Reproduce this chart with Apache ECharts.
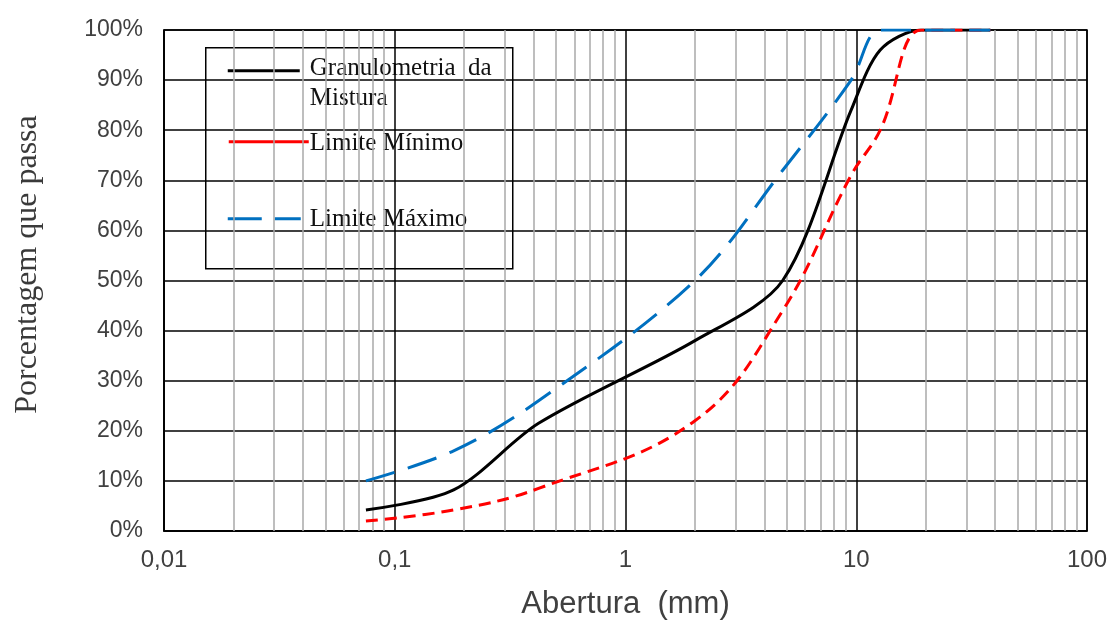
<!DOCTYPE html>
<html>
<head>
<meta charset="utf-8">
<script src="https://cdn.jsdelivr.net/npm/echarts@6/dist/echarts.min.js"></script>
<style>
html,body{margin:0;padding:0;background:#fff;}
#chart{width:1108px;height:622px;}
</style>
</head>
<body>
<div id="chart"></div>
<script>
// Sieve openings (mm)
var sieves = [0.075, 0.18, 0.42, 2.0, 4.8, 9.5, 12.7, 19.1, 25.4, 38.1];
// Percent passing
var mistura = [4.2, 8.2, 21.5, 38, 50, 84, 96, 100, 100, 100];
var limiteMinimo = [2, 4.2, 8.5, 22, 44, 71, 80, 100, 100, 100];
var limiteMaximo = [10, 16, 26, 50, 72, 90, 100, 100, 100, 100];

var xTickLabels = ['0,01', '0,1', '1', '10', '100'];
var yTickValues = [0, 10, 20, 30, 40, 50, 60, 70, 80, 90, 100];
var decades = [0.01, 0.1, 1, 10];
var minorMultipliers = [2, 3, 4, 5, 6, 7, 8, 9];

var names = ['Granulometria da Mistura', 'Limite Mínimo', 'Limite Máximo'];

function pairs(ys) {
  return sieves.map(function (x, i) { return [x, ys[i]]; });
}

var minorLines = [];
decades.forEach(function (d) {
  minorMultipliers.forEach(function (m) {
    minorLines.push({ xAxis: +(d * m).toPrecision(3) });
  });
});

var chart = echarts.init(document.getElementById('chart'), null, { renderer: 'canvas' });

var serif = '"Liberation Serif", "Times New Roman", serif';
var sans = '"Liberation Sans", Arial, sans-serif';

chart.setOption({
  animation: false,
  backgroundColor: '#ffffff',
  grid: {
    left: 164, right: 21, top: 30, bottom: 91,
    show: true, borderColor: '#000000', borderWidth: 1.5,
    containLabel: false,
    outerBoundsMode: 'none'
  },
  xAxis: {
    type: 'log',
    logBase: 10,
    min: 0.01,
    max: 100,
    name: 'Abertura  (mm)',
    nameLocation: 'middle',
    nameGap: 58,
    nameTextStyle: { fontFamily: sans, fontSize: 31, color: '#404040' },
    axisLine: { show: true, lineStyle: { color: '#000', width: 1.5 } },
    axisTick: { show: false },
    axisLabel: {
      margin: 17,
      fontFamily: sans, fontSize: 24, color: '#404040',
      formatter: function (v) {
        var k = Math.round(Math.log10(v)) + 2;
        return xTickLabels[k] !== undefined ? xTickLabels[k] : '';
      }
    },
    splitLine: { show: true, lineStyle: { color: '#000', width: 1.5 } }
  },
  yAxis: {
    type: 'value',
    min: 0,
    max: 100,
    interval: 10,
    name: 'Porcentagem que passa',
    nameLocation: 'middle',
    nameGap: 120,
    nameTextStyle: { fontFamily: serif, fontSize: 32, color: '#3a3a3a', padding: [0, 0, 0, 32] },
    axisLine: { show: true, lineStyle: { color: '#000', width: 1.5 } },
    axisTick: { show: false },
    axisLabel: {
      margin: 21,
      fontFamily: sans, fontSize: 23, color: '#404040',
      formatter: function (v) { return yTickValues.indexOf(v) >= 0 ? v + '%' : ''; }
    },
    splitLine: { show: true, lineStyle: { color: '#000', width: 1.5 } }
  },
  series: [
    {
      name: 'grid-minor',
      type: 'line',
      data: [],
      silent: true,
      z: 1,
      markLine: {
        z: 1,
        silent: true,
        symbol: ['none', 'none'],
        label: { show: false },
        lineStyle: { color: '#a8a8a8', type: 'solid', width: 1.5 },
        emphasis: { disabled: true },
        data: minorLines
      }
    },
    {
      name: names[0],
      type: 'line',
      data: pairs(mistura),
      smooth: 0.3,
      symbol: 'none',
      z: 3,
      lineStyle: { color: '#000000', width: 3 }
    },
    {
      name: names[1],
      type: 'line',
      data: pairs(limiteMinimo),
      smooth: 0.4,
      symbol: 'none',
      z: 4,
      lineStyle: { color: '#ff0000', width: 3, type: [12, 7] }
    },
    {
      name: names[2],
      type: 'line',
      data: pairs(limiteMaximo),
      smooth: 0.35,
      symbol: 'none',
      z: 5,
      lineStyle: { color: '#0070c0', width: 3, type: [30, 14] }
    }
  ],
  graphic: [
    {
      type: 'group', left: 205, top: 47, z: 100,
      children: [
        { type: 'rect', shape: { x: 0, y: 0, width: 307, height: 221 },
          style: { fill: '#ffffff', stroke: '#000000', lineWidth: 1.5 } },
        { type: 'line', shape: { x1: 22, y1: 23, x2: 94, y2: 23 },
          style: { stroke: '#000000', lineWidth: 3 } },
        { type: 'text', x: 104, y: 21,
          style: { text: 'Granulometria  da', font: '25px ' + serif, fill: '#111', verticalAlign: 'middle' } },
        { type: 'text', x: 104, y: 51,
          style: { text: 'Mistura', font: '25px ' + serif, fill: '#111', verticalAlign: 'middle' } },
        { type: 'line', shape: { x1: 23, y1: 94, x2: 103, y2: 94 },
          style: { stroke: '#ff0000', lineWidth: 3 } },
        { type: 'text', x: 104, y: 96,
          style: { text: 'Limite Mínimo', font: '25px ' + serif, fill: '#111', verticalAlign: 'middle' } },
        { type: 'line', shape: { x1: 22, y1: 171, x2: 95, y2: 171 },
          style: { stroke: '#0070c0', lineWidth: 3, lineDash: [34, 13] } },
        { type: 'text', x: 104, y: 172,
          style: { text: 'Limite Máximo', font: '25px ' + serif, fill: '#111', verticalAlign: 'middle' } }
      ]
    }
  ]
});
</script>
</body>
</html>
